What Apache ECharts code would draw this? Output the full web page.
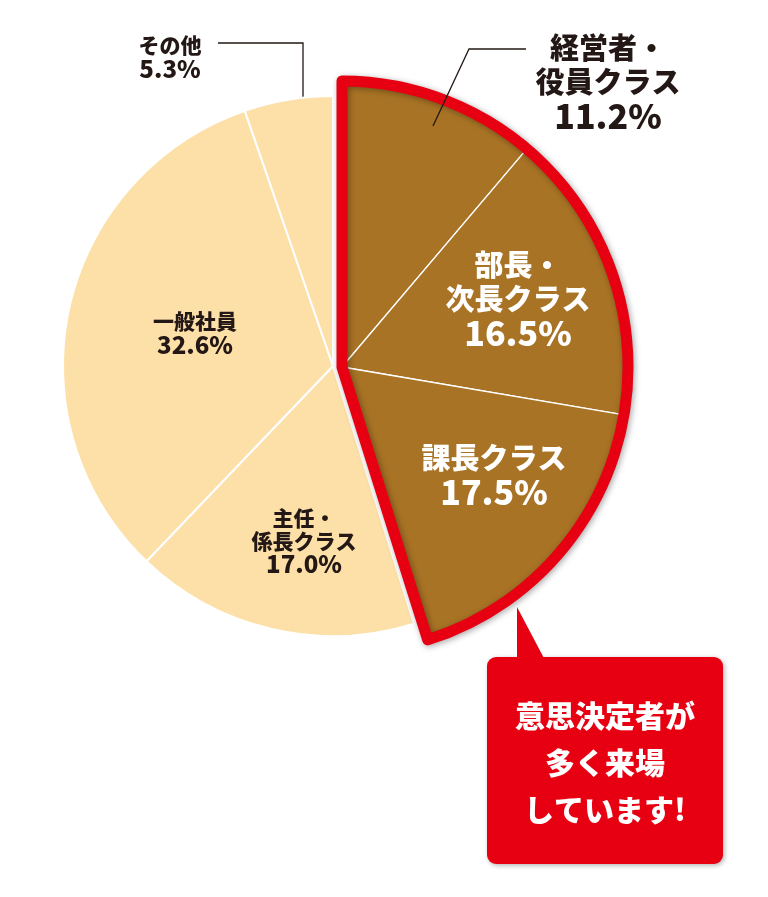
<!DOCTYPE html>
<html><head><meta charset="utf-8">
<script src="https://cdn.jsdelivr.net/npm/echarts@6/dist/echarts.min.js"></script>
<style>html,body{margin:0;padding:0;background:#fff}#c{width:768px;height:897px}</style>
</head><body><div id="c"></div>
<script>
// ---- data ----
const categories = ['経営者・\n役員クラス', '部長・\n次長クラス', '課長クラス', '主任・\n係長クラス', '一般社員', 'その他'];
const values = [11.2, 16.5, 17.5, 17.0, 32.6, 5.3];
const highlighted = [true, true, true, false, false, false];
const calloutText = ['意思決定者が', '多く来場', 'しています!'];

// ---- styles / layout ----
const total = values.reduce((a, b) => a + b, 0);
const hiSum = values.filter((v, i) => highlighted[i]).reduce((a, b) => a + b, 0);
const FONT = '"Noto Sans CJK JP", "Noto Sans", sans-serif';
const WEIGHT = 900;
const DARK = '#231815';
const BROWN = '#a87325';
const LIGHT = '#fde0a8';
const RED = '#e60012';
const lightCenter = [333, 366], lightR = 270;
const brownCenter = [342, 367], brownR = 286;

// label block centres and leader lines
const labelPos = {
  0: { x: 608, y: 82, line: [[433, 126], [469, 49], [526, 49]] },
  1: { x: 518, y: 299 },
  2: { x: 494, y: 475 },
  3: { x: 304, y: 541 },
  4: { x: 195, y: 333 },
  5: { x: 170, y: 57, line: [[303, 109], [303, 43], [218, 43]] }
};
const outsideIdx = [0, 5];
const bigLabel = [true, true, true, false, false, false];
const whiteLabel = [false, true, true, false, false, false];

function fmt(i) {
  const lines = categories[i].split('\n').map(s => '{n|' + s + '}');
  lines.push('{v|' + values[i].toFixed(1) + '%}');
  return lines.join('\n');
}
function labelFor(i) {
  const big = bigLabel[i];
  const col = whiteLabel[i] ? '#ffffff' : DARK;
  return {
    show: true,
    position: outsideIdx.includes(i) ? 'outside' : 'inside',
    formatter: () => fmt(i),
    color: col,
    fontFamily: FONT,
    fontWeight: WEIGHT,
    align: 'center',
    rich: {
      n: { fontSize: big ? 29 : 21, lineHeight: big ? 34 : 23, fontWeight: WEIGHT, color: col, fontFamily: FONT },
      v: { fontSize: big ? 34 : 24, lineHeight: big ? 34 : 23, fontWeight: WEIGHT, color: col, fontFamily: FONT }
    }
  };
}
function lineFor(i) {
  return { show: outsideIdx.includes(i), smooth: false, lineStyle: { color: DARK, width: 1.3 } };
}
const hidden = { color: 'none', borderWidth: 0 };

const lightData = values.map((v, i) => highlighted[i]
  ? { value: v, name: categories[i], itemStyle: hidden, label: { show: false }, labelLine: { show: false } }
  : { value: v, name: categories[i], itemStyle: { color: LIGHT, borderColor: '#ffffff', borderWidth: 2 }, label: labelFor(i), labelLine: lineFor(i) });

const brownData = values.map((v, i) => ({
  value: v, name: categories[i],
  itemStyle: highlighted[i] ? { color: BROWN, borderColor: '#ffffff', borderWidth: 1.3 } : hidden,
  label: { show: false }, labelLine: { show: false }
}));

const brownLabelData = values.map((v, i) => !highlighted[i]
  ? { value: v, name: categories[i], itemStyle: hidden, label: { show: false }, labelLine: { show: false } }
  : { value: v, name: categories[i], itemStyle: hidden, label: labelFor(i), labelLine: lineFor(i) });

function layout(params) {
  const p = labelPos[params.dataIndex];
  if (!p) return {};
  const r = { x: p.x, y: p.y, align: 'center', verticalAlign: 'middle' };
  if (p.line) r.labelLinePoints = p.line;
  return r;
}

const common = { type: 'pie', startAngle: 90, clockwise: true, avoidLabelOverlap: false, emphasis: { disabled: true }, silent: true };

const chart = echarts.init(document.getElementById('c'), null, { renderer: 'canvas' });
chart.setOption({
  animation: false,
  backgroundColor: '#ffffff',
  series: [
    Object.assign({}, common, { center: lightCenter, radius: [0, lightR], data: lightData, labelLayout: layout, z: 2 }),
    Object.assign({}, common, { center: brownCenter, radius: [0, brownR], data: brownData, z: 3 }),
    Object.assign({}, common, {
      center: brownCenter, radius: [0, brownR], z: 4,
      label: { show: false }, labelLine: { show: false },
      data: [
        { value: hiSum, name: 'outline', itemStyle: { color: 'none', borderColor: RED, borderWidth: 11, borderJoin: 'round',
          shadowBlur: 6, shadowColor: 'rgba(0,0,0,0.35)', shadowOffsetX: 1.5, shadowOffsetY: 1.5 } },
        { value: total - hiSum, name: 'rest', itemStyle: hidden }
      ]
    }),
    Object.assign({}, common, { center: brownCenter, radius: [0, brownR], data: brownLabelData, labelLayout: layout, z: 5 })
  ],
  graphic: [
    { type: 'rect', z: 10, shape: { x: 487, y: 657, width: 236, height: 207, r: 9 },
      style: { fill: RED, shadowBlur: 5, shadowColor: 'rgba(0,0,0,0.3)', shadowOffsetX: 1.5, shadowOffsetY: 1.5 } },
    { type: 'polygon', z: 11, shape: { points: [[517, 607], [517, 662], [546, 662]] }, style: { fill: RED } },
    { type: 'text', z: 12, x: 605, y: 763,
      style: { text: calloutText.join('\n'), fill: '#ffffff', fontFamily: FONT, fontWeight: WEIGHT, fontSize: 30,
        lineHeight: 47, align: 'center', verticalAlign: 'middle' } }
  ]
});
</script></body></html>
